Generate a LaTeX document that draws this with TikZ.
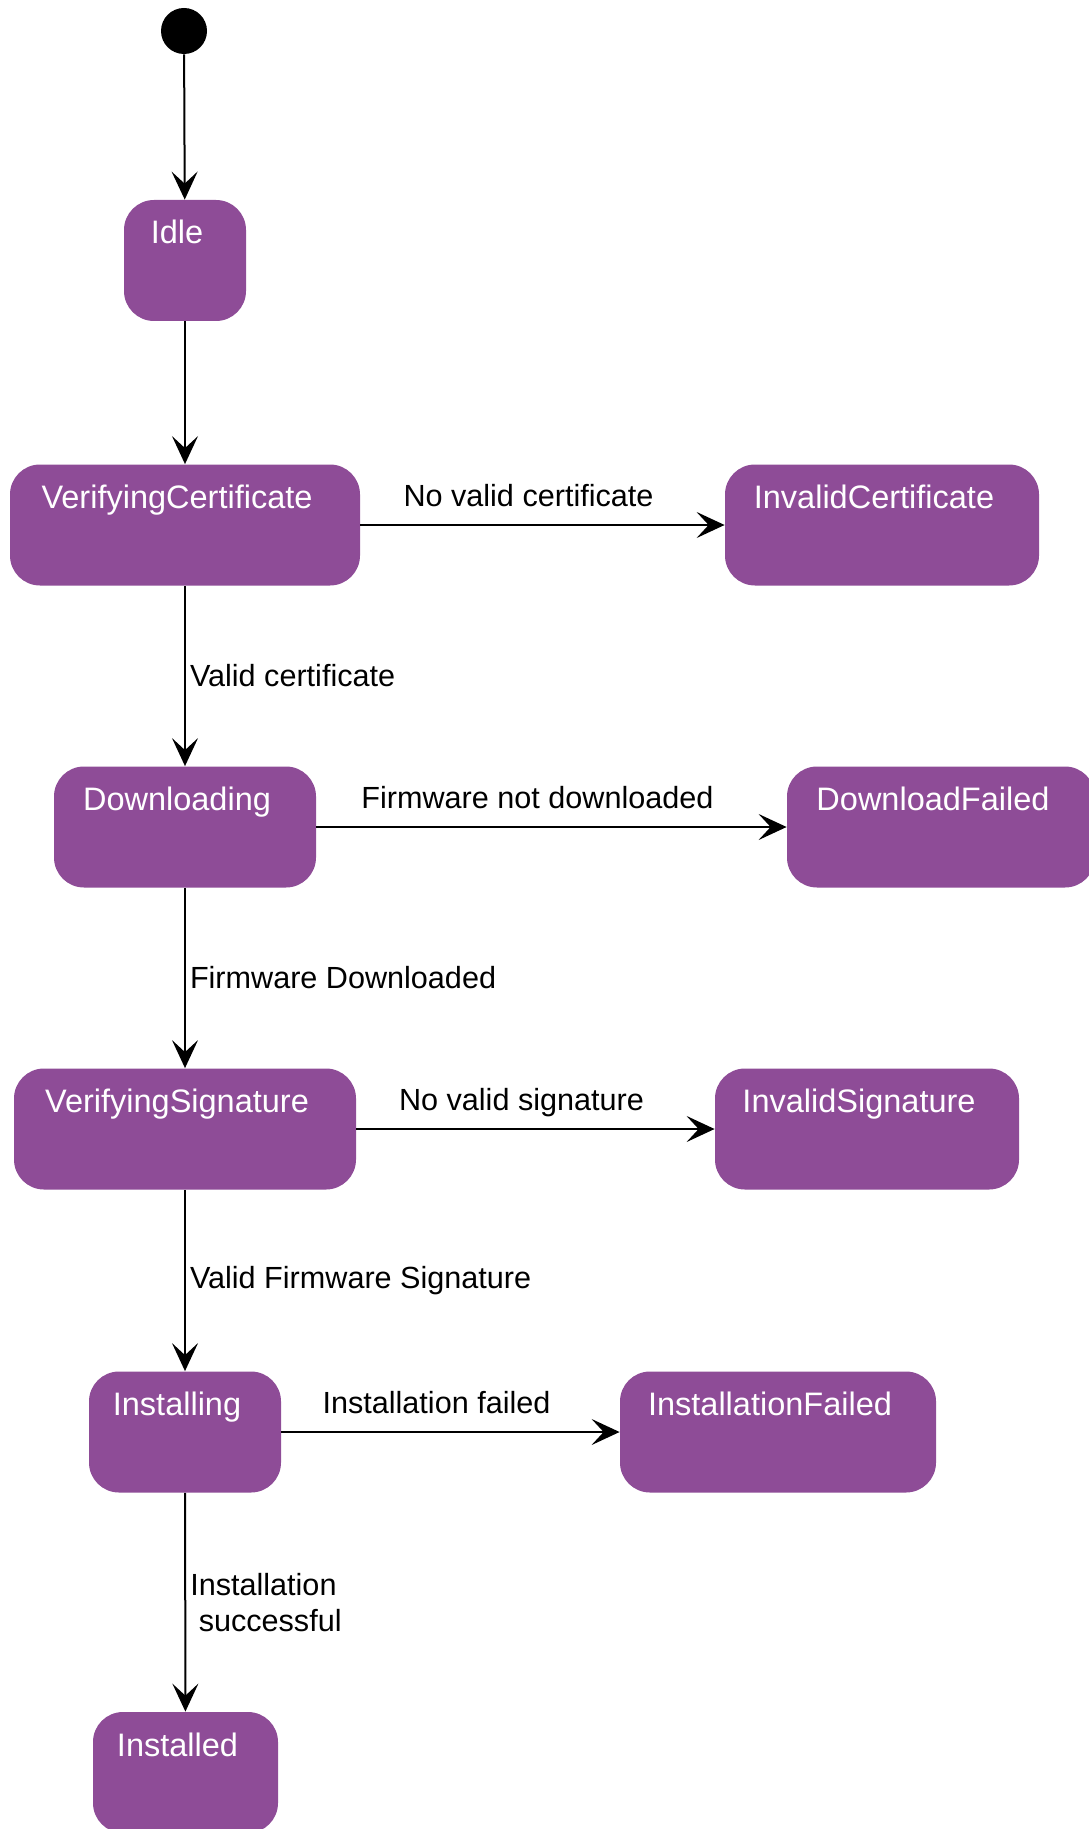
\documentclass[tikz,border=0pt]{standalone}
\usepackage{fontspec}
\setmainfont{Liberation Sans}
\usetikzlibrary{arrows.meta}
\definecolor{statepurple}{RGB}{142,76,151}
\tikzset{
  state/.style={fill=statepurple, text=white, rounded corners=15pt, inner xsep=0pt, inner ysep=0pt,
    minimum height=60.5pt, text height=22pt, text depth=38.5pt,
    font=\fontsize{16.25pt}{19pt}\selectfont, execute at end node=\kern8pt},
  trans/.style={-{Stealth[length=14pt,width=13pt,inset=6pt]}, line width=1pt},
  hlabel/.style={anchor=base, yshift=9.5pt, xshift=-7pt, font=\fontsize{15.3pt}{18pt}\selectfont},
  vlabel/.style={anchor=west, inner xsep=2pt, align=left, font=\fontsize{15.3pt}{18pt}\selectfont}
}
\begin{document}
\begin{tikzpicture}[x=0.5pt,y=-0.5pt]
\useasboundingbox (0,0) rectangle (1088,1829);
\node[circle, fill=black, minimum size=23pt, inner sep=0pt] (init) at (184,31) {};
% main column
\node[state, minimum width=61pt] (idle) at (185,260.5) {Idle};
\node[state, minimum width=175pt] (vcert) at (185,525) {VerifyingCertificate};
\node[state, minimum width=131pt] (dl) at (185,827) {Downloading};
\node[state, minimum width=171pt] (vsig) at (185,1129) {VerifyingSignature};
\node[state, minimum width=96pt] (inst) at (185,1432) {Installing};
\node[state, minimum width=92.5pt] (done) at (185.5,1772.5) {Installed};
% failure states
\node[state, minimum width=157pt] (badcert) at (882,525) {InvalidCertificate};
\node[state, minimum width=154pt] (dlfail) at (941,827) {DownloadFailed};
\node[state, minimum width=152pt] (badsig) at (867,1129) {InvalidSignature};
\node[state, minimum width=158pt] (instfail) at (778,1432) {InstallationFailed};

\draw[trans] (init) -- (idle);
\draw[trans] (idle) -- (vcert);
\draw[trans] (vcert) -- node[vlabel] {Valid certificate} (dl);
\draw[trans] (dl) -- node[vlabel] {Firmware Downloaded} (vsig);
\draw[trans] (vsig) -- node[vlabel] {Valid Firmware Signature} (inst);
\draw[trans] (inst) -- node[vlabel] {Installation\\~successful} (done);
\draw[trans] (vcert) -- node[hlabel] {No valid certificate} (badcert);
\draw[trans] (dl) -- node[hlabel] {Firmware not downloaded} (dlfail);
\draw[trans] (vsig) -- node[hlabel] {No valid signature} (badsig);
\draw[trans] (inst) -- node[hlabel] {Installation failed} (instfail);
\end{tikzpicture}
\end{document}
